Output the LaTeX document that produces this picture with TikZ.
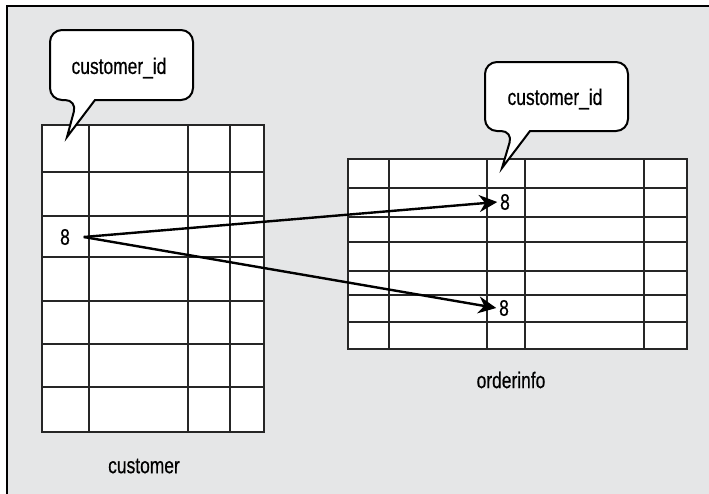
\documentclass[tikz,border=0pt]{standalone}
\usepackage{fontspec}
\setmainfont[FakeStretch=0.77,FakeBold=0.5]{Liberation Sans}
\usetikzlibrary{arrows.meta}
\definecolor{paper}{RGB}{229,230,231}

\begin{document}
\begin{tikzpicture}[x=0.5pt,y=-0.5pt,line width=0.9pt,
	font=\fontsize{11.3}{13}\selectfont,
	grid/.style={draw=black!85,line width=1pt},
	bubble/.style={draw,fill=white,line width=1pt},
	link/.style={-{Stealth[length=9pt,width=8.5pt]},line width=1.2pt}]
	\useasboundingbox (0,0) rectangle (709,494);
	\fill[paper] (7,6) rectangle (709,494);
	\draw (7,494) -- (7,6) -- (709,6);
	\fill[white] (42,125) rectangle (264,432);
	\foreach \x in {89,188,230} \draw[grid] (\x,125) -- (\x,432);
	\foreach \y in {172,216,257,301,344,387} \draw[grid] (42,\y) -- (264,\y);
	\draw[grid] (42,125) rectangle (264,432);
	\fill[white] (348,159) rectangle (687,349);
	\foreach \x in {389,487,525,644} \draw[grid] (\x,159) -- (\x,349);
	\foreach \y in {188,217,242,271,295,322} \draw[grid] (348,\y) -- (687,\y);
	\draw[grid] (348,159) rectangle (687,349);
	\draw[bubble] (95,100) [rounded corners=6pt] -- (193,100) -- (193,30) -- (50,30) -- (50,100) -- (77,100) [sharp corners] -- (67,137) -- cycle;
	\draw[bubble] (530,131) [rounded corners=6pt] -- (628,131) -- (628,62) -- (485,62) -- (485,131) -- (513,131) [sharp corners] -- (502,168) -- cycle;
	\node (idA) at (119,68) {customer\_id};
	\node (idB) at (555,99) {customer\_id};
	\node[inner sep=1pt] (key) at (65,237) {8};
	\node[inner sep=1pt] (refA) at (505,202) {8};
	\node[inner sep=1pt] (refB) at (504,308) {8};
	\draw[link] ([xshift=5.5pt]key.east) -- (refA.west);
	\draw[link] ([xshift=5.5pt]key.east) -- (refB.west);
	\node (tA) at (144,466) {customer};
	\node (tB) at (511,380) {orderinfo};
\end{tikzpicture}
\end{document}
